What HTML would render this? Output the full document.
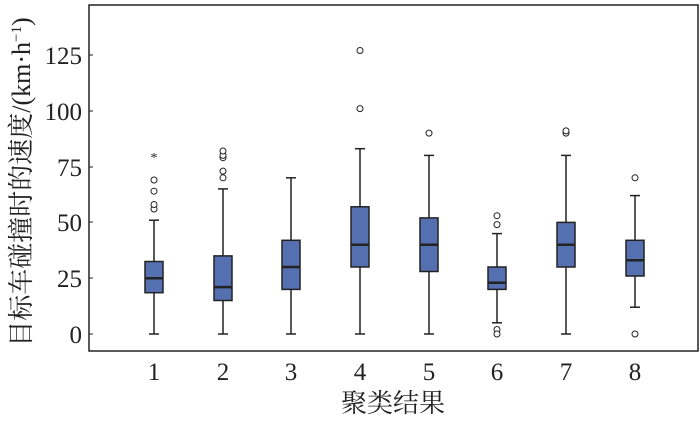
<!DOCTYPE html><html><head><meta charset="utf-8"><style>body{margin:0;background:#fff}</style></head><body>
<svg width="700" height="418" xmlns="http://www.w3.org/2000/svg" font-family="Liberation Serif, Noto Serif CJK SC, serif">
<rect x="89" y="5" width="609" height="346" fill="#fff" stroke="#222" stroke-width="1.5"/>
<g font-size="25" fill="#222" text-anchor="end">
<text x="82" y="343">0</text><text x="82" y="287">25</text><text x="82" y="231">50</text><text x="82" y="176">75</text><text x="82" y="120">100</text><text x="82" y="64">125</text>
</g>
<g stroke="#222" stroke-width="1">
<line x1="89" x2="93" y1="334" y2="334"/><line x1="89" x2="93" y1="278" y2="278"/><line x1="89" x2="93" y1="222" y2="222"/><line x1="89" x2="93" y1="167" y2="167"/><line x1="89" x2="93" y1="111" y2="111"/><line x1="89" x2="93" y1="55" y2="55"/>
</g>
<g font-size="25" fill="#222" text-anchor="middle">
<text x="154" y="380">1</text><text x="223" y="380">2</text><text x="291" y="380">3</text><text x="360" y="380">4</text><text x="429" y="380">5</text><text x="497" y="380">6</text><text x="566" y="380">7</text><text x="635" y="380">8</text>
</g>
<text x="393" y="412" font-size="26" text-anchor="middle" fill="#222" font-family="Noto Serif CJK SC, serif">聚类结果</text>
<text transform="translate(30,182) rotate(-90)" font-size="26" text-anchor="middle" fill="#222">目标车碰撞时的速度/(km·h<tspan font-size="15" dy="-9">−1</tspan><tspan dy="9">)</tspan></text>
<g stroke="#222" stroke-width="1.5" fill="#5470b0">
<line x1="154" x2="154" y1="334" y2="220.2"/><line x1="149" x2="159" y1="334" y2="334"/><line x1="149" x2="159" y1="220.2" y2="220.2"/><rect x="145" width="18" y="261.5" height="31.2"/><line x1="145" x2="163" y1="278.2" y2="278.2" stroke-width="2.5"/>
<line x1="223" x2="223" y1="334" y2="188.9"/><line x1="218" x2="228" y1="334" y2="334"/><line x1="218" x2="228" y1="188.9" y2="188.9"/><rect x="214" width="18" y="255.9" height="44.6"/><line x1="214" x2="232" y1="287.1" y2="287.1" stroke-width="2.5"/>
<line x1="291" x2="291" y1="334" y2="177.8"/><line x1="286" x2="296" y1="334" y2="334"/><line x1="286" x2="296" y1="177.8" y2="177.8"/><rect x="282" width="18" y="240.3" height="49.1"/><line x1="282" x2="300" y1="267" y2="267" stroke-width="2.5"/>
<line x1="360" x2="360" y1="334" y2="148.7"/><line x1="355" x2="365" y1="334" y2="334"/><line x1="355" x2="365" y1="148.7" y2="148.7"/><rect x="351" width="18" y="206.8" height="60.2"/><line x1="351" x2="369" y1="244.7" y2="244.7" stroke-width="2.5"/>
<line x1="429" x2="429" y1="334" y2="155.4"/><line x1="424" x2="434" y1="334" y2="334"/><line x1="424" x2="434" y1="155.4" y2="155.4"/><rect x="420" width="18" y="217.9" height="53.6"/><line x1="420" x2="438" y1="244.7" y2="244.7" stroke-width="2.5"/>
<line x1="497" x2="497" y1="322.8" y2="233.6"/><line x1="492" x2="502" y1="322.8" y2="322.8"/><line x1="492" x2="502" y1="233.6" y2="233.6"/><rect x="488" width="18" y="267" height="22.4"/><line x1="488" x2="506" y1="282.7" y2="282.7" stroke-width="2.5"/>
<line x1="566" x2="566" y1="334" y2="155.4"/><line x1="561" x2="571" y1="334" y2="334"/><line x1="561" x2="571" y1="155.4" y2="155.4"/><rect x="557" width="18" y="222.4" height="44.6"/><line x1="557" x2="575" y1="244.7" y2="244.7" stroke-width="2.5"/>
<line x1="635" x2="635" y1="307.2" y2="195.6"/><line x1="630" x2="640" y1="307.2" y2="307.2"/><line x1="630" x2="640" y1="195.6" y2="195.6"/><rect x="626" width="18" y="240.3" height="35.7"/><line x1="626" x2="644" y1="260.3" y2="260.3" stroke-width="2.5"/>
</g>
<g stroke="#222" stroke-width="1" fill="#fff">
<circle cx="154" cy="209" r="3"/><circle cx="154" cy="204.5" r="3"/><circle cx="154" cy="191.2" r="3"/><circle cx="154" cy="180" r="3"/>
<circle cx="223" cy="177.8" r="3"/><circle cx="223" cy="171.1" r="3"/><circle cx="223" cy="157.7" r="3"/><circle cx="223" cy="155.4" r="3"/><circle cx="223" cy="151" r="3"/>
<circle cx="360" cy="108.6" r="3"/><circle cx="360" cy="50.5" r="3"/>
<circle cx="429" cy="133.1" r="3"/>
<circle cx="497" cy="224.6" r="3"/><circle cx="497" cy="215.7" r="3"/><circle cx="497" cy="329.5" r="3"/><circle cx="497" cy="334" r="3"/>
<circle cx="566" cy="133.1" r="3"/><circle cx="566" cy="130.9" r="3"/>
<circle cx="635" cy="177.8" r="3"/><circle cx="635" cy="334" r="3"/>
</g>
<text x="154" y="162" font-size="14" text-anchor="middle" fill="#222">*</text>
</svg></body></html>
